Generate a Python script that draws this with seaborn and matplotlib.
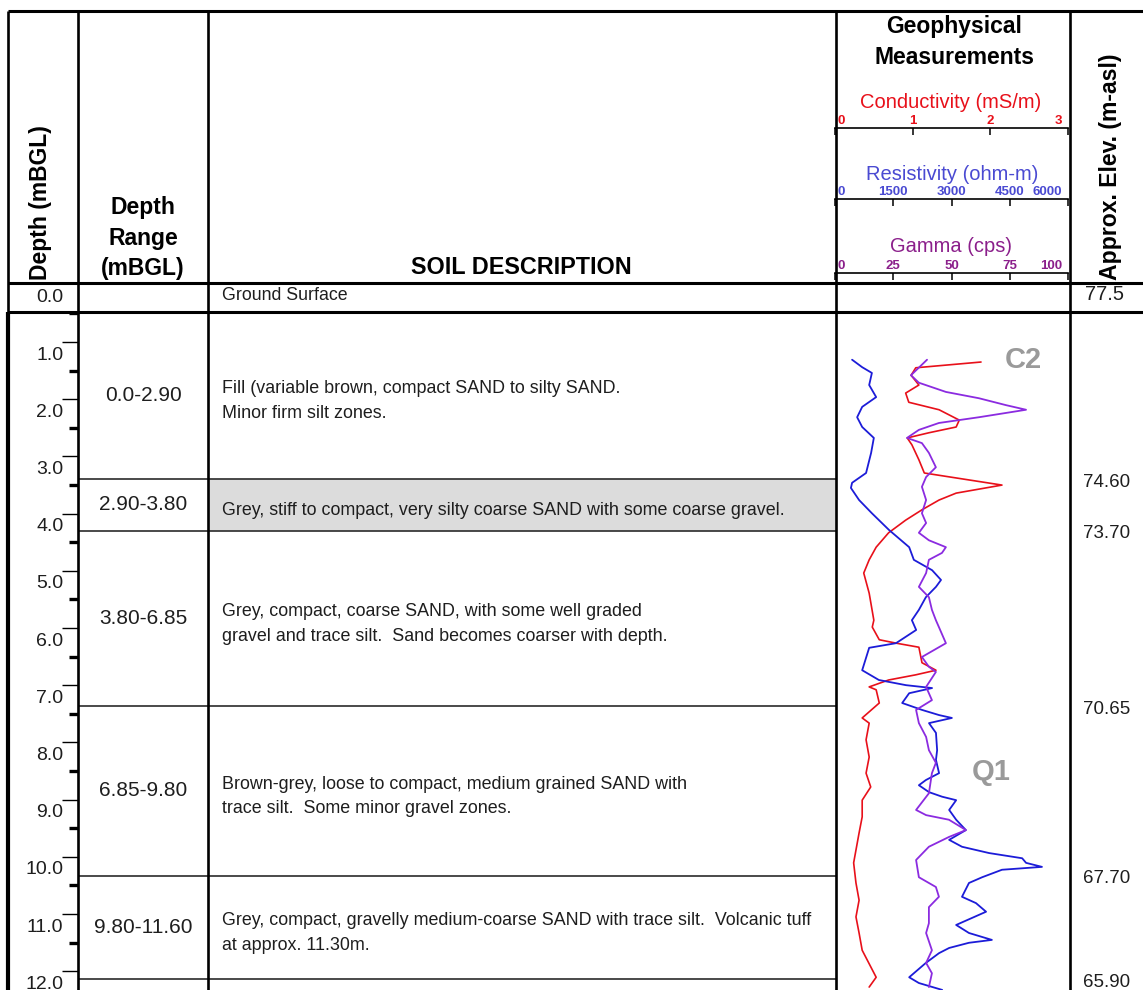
import matplotlib
matplotlib.use("Agg")
import matplotlib.pyplot as plt
import matplotlib.transforms as mtransforms
import seaborn as sns

# ---------------- borehole data ----------------
GROUND_ELEV = 77.5
LAYER_TOP = [0.0, 2.90, 3.80, 6.85, 9.80]
LAYER_BOTTOM = [2.90, 3.80, 6.85, 9.80, 11.60]
RANGE_LABELS = ["0.0-2.90", "2.90-3.80", "3.80-6.85", "6.85-9.80", "9.80-11.60"]
LAYER_DESC = [
    "Fill (variable brown, compact SAND to silty SAND.\nMinor firm silt zones.",
    "Grey, stiff to compact, very silty coarse SAND with some coarse gravel.",
    "Grey, compact, coarse SAND, with some well graded\ngravel and trace silt.  Sand becomes coarser with depth.",
    "Brown-grey, loose to compact, medium grained SAND with\ntrace silt.  Some minor gravel zones.",
    "Grey, compact, gravelly medium-coarse SAND with trace silt.  Volcanic tuff\nat approx. 11.30m.",
]
SHADED_LAYERS = [1]
DEPTH_TICKS = [0, 1, 2, 3, 4, 5, 6, 7, 8, 9, 10, 11, 12]

# conductivity log (mS/m)
COND_DEPTH = [0.87, 0.97, 1.10, 1.27, 1.41, 1.57, 1.70, 1.88, 2.00, 2.10,
              2.19, 2.31, 2.57, 2.80, 3.01, 3.15, 3.27, 3.44, 3.62, 3.84,
              4.09, 4.31, 4.54, 4.89, 5.36, 5.48, 5.70, 5.76, 5.83, 6.10,
              6.23, 6.31, 6.40, 6.52, 6.57, 6.80, 7.06, 7.15, 7.44, 7.74,
              8.02, 8.26, 8.49, 8.78, 9.06, 9.58, 9.93, 10.23, 10.52, 10.80,
              11.10, 11.57, 11.74]
COND_VALUE = [1.88, 1.04, 0.98, 1.08, 0.91, 0.95, 1.34, 1.60, 1.56, 1.21,
              0.93, 0.99, 1.08, 1.15, 2.15, 1.56, 1.34, 1.12, 0.91, 0.69,
              0.53, 0.44, 0.37, 0.44, 0.50, 0.48, 0.57, 0.79, 1.08, 1.12,
              1.30, 1.04, 0.69, 0.44, 0.53, 0.57, 0.35, 0.44, 0.40, 0.44,
              0.40, 0.46, 0.35, 0.35, 0.31, 0.24, 0.27, 0.31, 0.27, 0.31,
              0.35, 0.53, 0.44]

# resistivity log (ohm-m)
RES_DEPTH = [0.83, 0.96, 1.06, 1.27, 1.48, 1.65, 1.83, 2.00, 2.19, 2.45,
             2.80, 2.97, 3.06, 3.27, 3.50, 3.79, 4.09, 4.31, 4.49, 4.66,
             4.78, 4.96, 5.18, 5.36, 5.53, 5.76, 5.84, 6.23, 6.40, 6.49,
             6.54, 6.63, 6.80, 6.92, 7.01, 7.06, 7.15, 7.32, 7.62, 7.79,
             8.02, 8.14, 8.23, 8.35, 8.43, 8.49, 8.66, 8.83, 9.01, 9.18,
             9.30, 9.41, 9.50, 9.58, 9.65, 9.70, 9.83, 9.93, 10.17, 10.28,
             10.43, 10.66, 10.80, 10.92, 10.97, 11.06, 11.15, 11.32, 11.57, 11.67,
             11.79]
RES_VALUE = [440, 700, 950, 880, 1060, 700, 570, 700, 1000, 930,
             800, 440, 410, 620, 950, 1390, 1910, 2030, 2500, 2730,
             2600, 2340, 2160, 1980, 2090, 1570, 880, 700, 1130, 1830,
             2500, 1910, 1730, 2240, 2680, 3010, 2420, 2600, 2630, 2600,
             2680, 2340, 2160, 2420, 2760, 3120, 2940, 3120, 3370, 2940,
             3270, 3970, 4820, 4920, 5330, 4300, 3790, 3450, 3270, 3630,
             3890, 3120, 3450, 4040, 3450, 2940, 2680, 2340, 1910, 2160,
             2760]

# natural gamma log (cps)
GAMMA_DEPTH = [0.83, 1.10, 1.23, 1.39, 1.50, 1.62, 1.70, 1.83, 1.93, 2.05,
               2.19, 2.28, 2.45, 2.70, 2.87, 3.04, 3.27, 3.50, 3.67, 3.84,
               3.97, 4.09, 4.19, 4.31, 4.54, 4.78, 4.96, 5.18, 5.36, 5.48,
               5.76, 6.00, 6.17, 6.26, 6.52, 6.75, 6.92, 7.15, 7.39, 7.62,
               7.84, 8.02, 8.37, 8.66, 8.75, 8.83, 9.01, 9.13, 9.30, 9.53,
               9.83, 10.00, 10.17, 10.35, 10.63, 10.80, 11.10, 11.32, 11.50, 11.74]
GAMMA_VALUE = [39.5, 32.6, 36.0, 47.6, 61.8, 73.4, 82.0, 61.8, 44.6, 36.0,
               30.9, 37.3, 40.3, 43.3, 39.1, 37.3, 39.1, 37.3, 39.1, 36.0,
               40.3, 47.6, 45.9, 40.3, 39.1, 36.0, 40.3, 41.6, 43.3, 44.6,
               47.6, 37.3, 40.3, 43.3, 39.1, 41.6, 34.8, 36.0, 39.1, 40.3,
               43.3, 41.6, 40.3, 34.8, 39.1, 48.9, 56.2, 48.9, 40.3, 34.8,
               36.0, 43.3, 44.6, 40.3, 40.3, 39.1, 41.6, 39.1, 41.6, 40.3]

COND_TICKS = [0, 1, 2, 3]
RES_TICKS = [0, 1500, 3000, 4500, 6000]
GAMMA_TICKS = [0, 25, 50, 75, 100]

UNIT_LABELS = [("C2", 0.83), ("Q1", 8.0)]

# ---------------- styling ----------------
sns.set_theme(style="white")
plt.rcParams["font.family"] = ["Liberation Sans", "DejaVu Sans"]

RED = "#e8101a"
BLUE = "#1c1cd8"
PURPLE = "#8b2be0"
RES_TXT = "#4a4ad2"
GAM_TXT = "#8b1f8b"
TXT = "#1e1e1e"

W, H = 1143, 990
fig = plt.figure(figsize=(W / 100, H / 100), dpi=100)
fig.patch.set_facecolor("white")


def px_axes(x0, y0, x1, y1):
    return fig.add_axes([x0 / W, 1 - y1 / H, (x1 - x0) / W, (y1 - y0) / H])


def shift(artist, dx_px):
    artist.set_transform(artist.get_transform() +
                         mtransforms.ScaledTranslation(dx_px / 100, 0, fig.dpi_scale_trans))


BODY_TOP, BODY_BOT = 312, 990
PX_PER_M = 57.5
VIEW_DEPTH = (BODY_BOT - BODY_TOP) / PX_PER_M

# ---------------- depth scale column ----------------
ax_d = px_axes(8, BODY_TOP, 78, BODY_BOT)
ax_d.set_xlim(0, 1)
ax_d.set_ylim(12.33, 0.476)
for s in ax_d.spines.values():
    s.set_visible(False)
ax_d.patch.set_alpha(0)
ax_d.set_xticks([])
ax_d.yaxis.tick_right()
ax_d.set_yticks(DEPTH_TICKS[1:])
ax_d.set_yticks([t + 0.5 for t in DEPTH_TICKS[:-1]], minor=True)
ax_d.tick_params(axis="y", which="major", direction="in", length=11.5, width=1.0,
                 color="black", labelright=False, labelleft=False)
ax_d.tick_params(axis="y", which="minor", direction="in", length=6.5, width=2.4,
                 color="black", labelright=False, labelleft=False)
tr_d = mtransforms.blended_transform_factory(ax_d.transAxes, ax_d.transData)
for t in DEPTH_TICKS:
    ax_d.text(0.79, t + 0.08, f"{t:.1f}", transform=tr_d, ha="right", va="top",
              fontsize=14, color=TXT, clip_on=False)

# ---------------- depth range and description columns ----------------
ax_rg = px_axes(78, BODY_TOP, 208, BODY_BOT)
ax_sd = px_axes(208, BODY_TOP, 836, BODY_BOT)
for ax in (ax_rg, ax_sd):
    ax.set_xlim(0, 1)
    ax.set_ylim(VIEW_DEPTH, 0)
    ax.axis("off")

for i in SHADED_LAYERS:
    ax_sd.axhspan(LAYER_TOP[i], LAYER_BOTTOM[i], color="#dcdcdc", lw=0)

for ax in (ax_rg, ax_sd):
    for b in LAYER_BOTTOM:
        ax.axhline(b, color="#3a3a3a", lw=1.3)

for top, bot, lab, desc in zip(LAYER_TOP, LAYER_BOTTOM, RANGE_LABELS, LAYER_DESC):
    mid = (top + bot) / 2
    ax_rg.text(0.5, mid, lab, ha="center", va="center", fontsize=15, color=TXT)
    ax_sd.text(0.022, mid + 0.1, desc, ha="left", va="center", fontsize=12.9,
               color=TXT, linespacing=1.6)

# ---------------- geophysical logs ----------------
GEO_X0, GEO_X1 = 835, 1068
ax_c = px_axes(GEO_X0, BODY_TOP, GEO_X1, BODY_BOT)
ax_r = px_axes(GEO_X0, BODY_TOP, GEO_X1, BODY_BOT)
ax_g = px_axes(GEO_X0, BODY_TOP, GEO_X1, BODY_BOT)

sns.lineplot(x=RES_VALUE, y=RES_DEPTH, sort=False, estimator=None, ax=ax_r,
             color=BLUE, linewidth=1.3)
sns.lineplot(x=COND_VALUE, y=COND_DEPTH, sort=False, estimator=None, ax=ax_c,
             color=RED, linewidth=1.2)
sns.lineplot(x=GAMMA_VALUE, y=GAMMA_DEPTH, sort=False, estimator=None, ax=ax_g,
             color=PURPLE, linewidth=1.3)

for ax, lim in ((ax_c, (COND_TICKS[0], COND_TICKS[-1])),
                (ax_r, (RES_TICKS[0], RES_TICKS[-1])),
                (ax_g, (GAMMA_TICKS[0], GAMMA_TICKS[-1]))):
    ax.set_xlim(*lim)
    ax.set_ylim(VIEW_DEPTH, 0)
    ax.axis("off")
    ax.patch.set_alpha(0)

tr_c = mtransforms.blended_transform_factory(ax_c.transAxes, ax_c.transData)
for (name, dep), xf in zip(UNIT_LABELS, (0.81, 0.67)):
    ax_c.text(xf, dep, name, transform=tr_c, ha="center", va="center",
              fontsize=21, fontweight="bold", color="#9a9a9a")

# header scale bars for each log
for yline, ticks, col in ((128, COND_TICKS, RED),
                          (199, RES_TICKS, RES_TXT),
                          (273, GAMMA_TICKS, GAM_TXT)):
    ax = px_axes(GEO_X0, yline, GEO_X1, yline + 12)
    ax.set_xlim(ticks[0], ticks[-1])
    ax.set_ylim(0, 1)
    ax.patch.set_alpha(0)
    for k, s in ax.spines.items():
        s.set_visible(k == "top")
    ax.spines["top"].set_linewidth(1.2)
    ax.spines["top"].set_color("black")
    ax.xaxis.tick_top()
    ax.set_xticks(ticks)
    ax.set_xticklabels([str(t) for t in ticks])
    ax.set_yticks([])
    ax.tick_params(axis="x", direction="in", length=5, width=1.1, pad=0.5,
                   color="black", labelcolor=col, labelsize=9.5)
    labs = ax.get_xticklabels()
    for lb in labs:
        lb.set_fontweight("bold")
    labs[0].set_horizontalalignment("left")
    labs[-1].set_horizontalalignment("right")
    shift(labs[0], 3)
    shift(labs[-1], -6)

# ---------------- elevation column ----------------
ax_e = px_axes(1070, BODY_TOP, 1143, BODY_BOT)
ax_e.set_xlim(0, 1)
ax_e.set_ylim(VIEW_DEPTH, 0)
ax_e.axis("off")
for b in LAYER_BOTTOM:
    ax_e.text(0.5, b + 0.06, f"{GROUND_ELEV - b:.2f}", ha="center", va="center",
              fontsize=13.5, color=TXT)

# ---------------- header and table frame ----------------
ax_f = fig.add_axes([0, 0, 1, 1])
ax_f.set_xlim(0, W)
ax_f.set_ylim(H, 0)
ax_f.axis("off")
ax_f.patch.set_alpha(0)

LW = 1.9
ax_f.hlines([11], 8, W, color="black", lw=2.2)
ax_f.hlines([283, 312], 8, W, color="black", lw=2.2)
ax_f.vlines([78, 208, 836, 1070], 11, H, color="black", lw=LW)
ax_f.vlines([8], 11, 312, color="black", lw=LW)
ax_f.vlines([8], 312, H, color="black", lw=3.0)

ax_f.text(41, 280, "Depth (mBGL)", rotation=90, ha="center", va="bottom",
          fontsize=16.5, fontweight="bold", color="black")
ax_f.text(143, 238, "Depth\nRange\n(mBGL)", ha="center", va="center",
          fontsize=16.5, fontweight="bold", linespacing=1.4, color="black")
ax_f.text(521, 268, "SOIL DESCRIPTION", ha="center", va="center",
          fontsize=16.8, fontweight="bold", color="black")
ax_f.text(954, 27, "Geophysical", ha="center", va="center",
          fontsize=16.5, fontweight="bold", color="black")
ax_f.text(954, 58, "Measurements", ha="center", va="center",
          fontsize=16.5, fontweight="bold", color="black")
ax_f.text(951, 102, "Conductivity (mS/m)", ha="center", va="center",
          fontsize=14.5, color=RED)
ax_f.text(952, 175, "Resistivity (ohm-m)", ha="center", va="center",
          fontsize=14.5, color=RES_TXT)
ax_f.text(951, 247, "Gamma (cps)", ha="center", va="center",
          fontsize=14.5, color=GAM_TXT)
ax_f.text(1110, 280, "Approx. Elev. (m-asl)", rotation=90, ha="center",
          va="bottom", fontsize=16.6, fontweight="bold", color="black")

ax_f.text(222, 296, "Ground Surface", ha="left", va="center", fontsize=12.8,
          color=TXT)
ax_f.text(1105, 294, f"{GROUND_ELEV:.1f}", ha="center", va="center",
          fontsize=14.5, color=TXT)

fig.savefig("out.png", dpi=100, facecolor="white")
